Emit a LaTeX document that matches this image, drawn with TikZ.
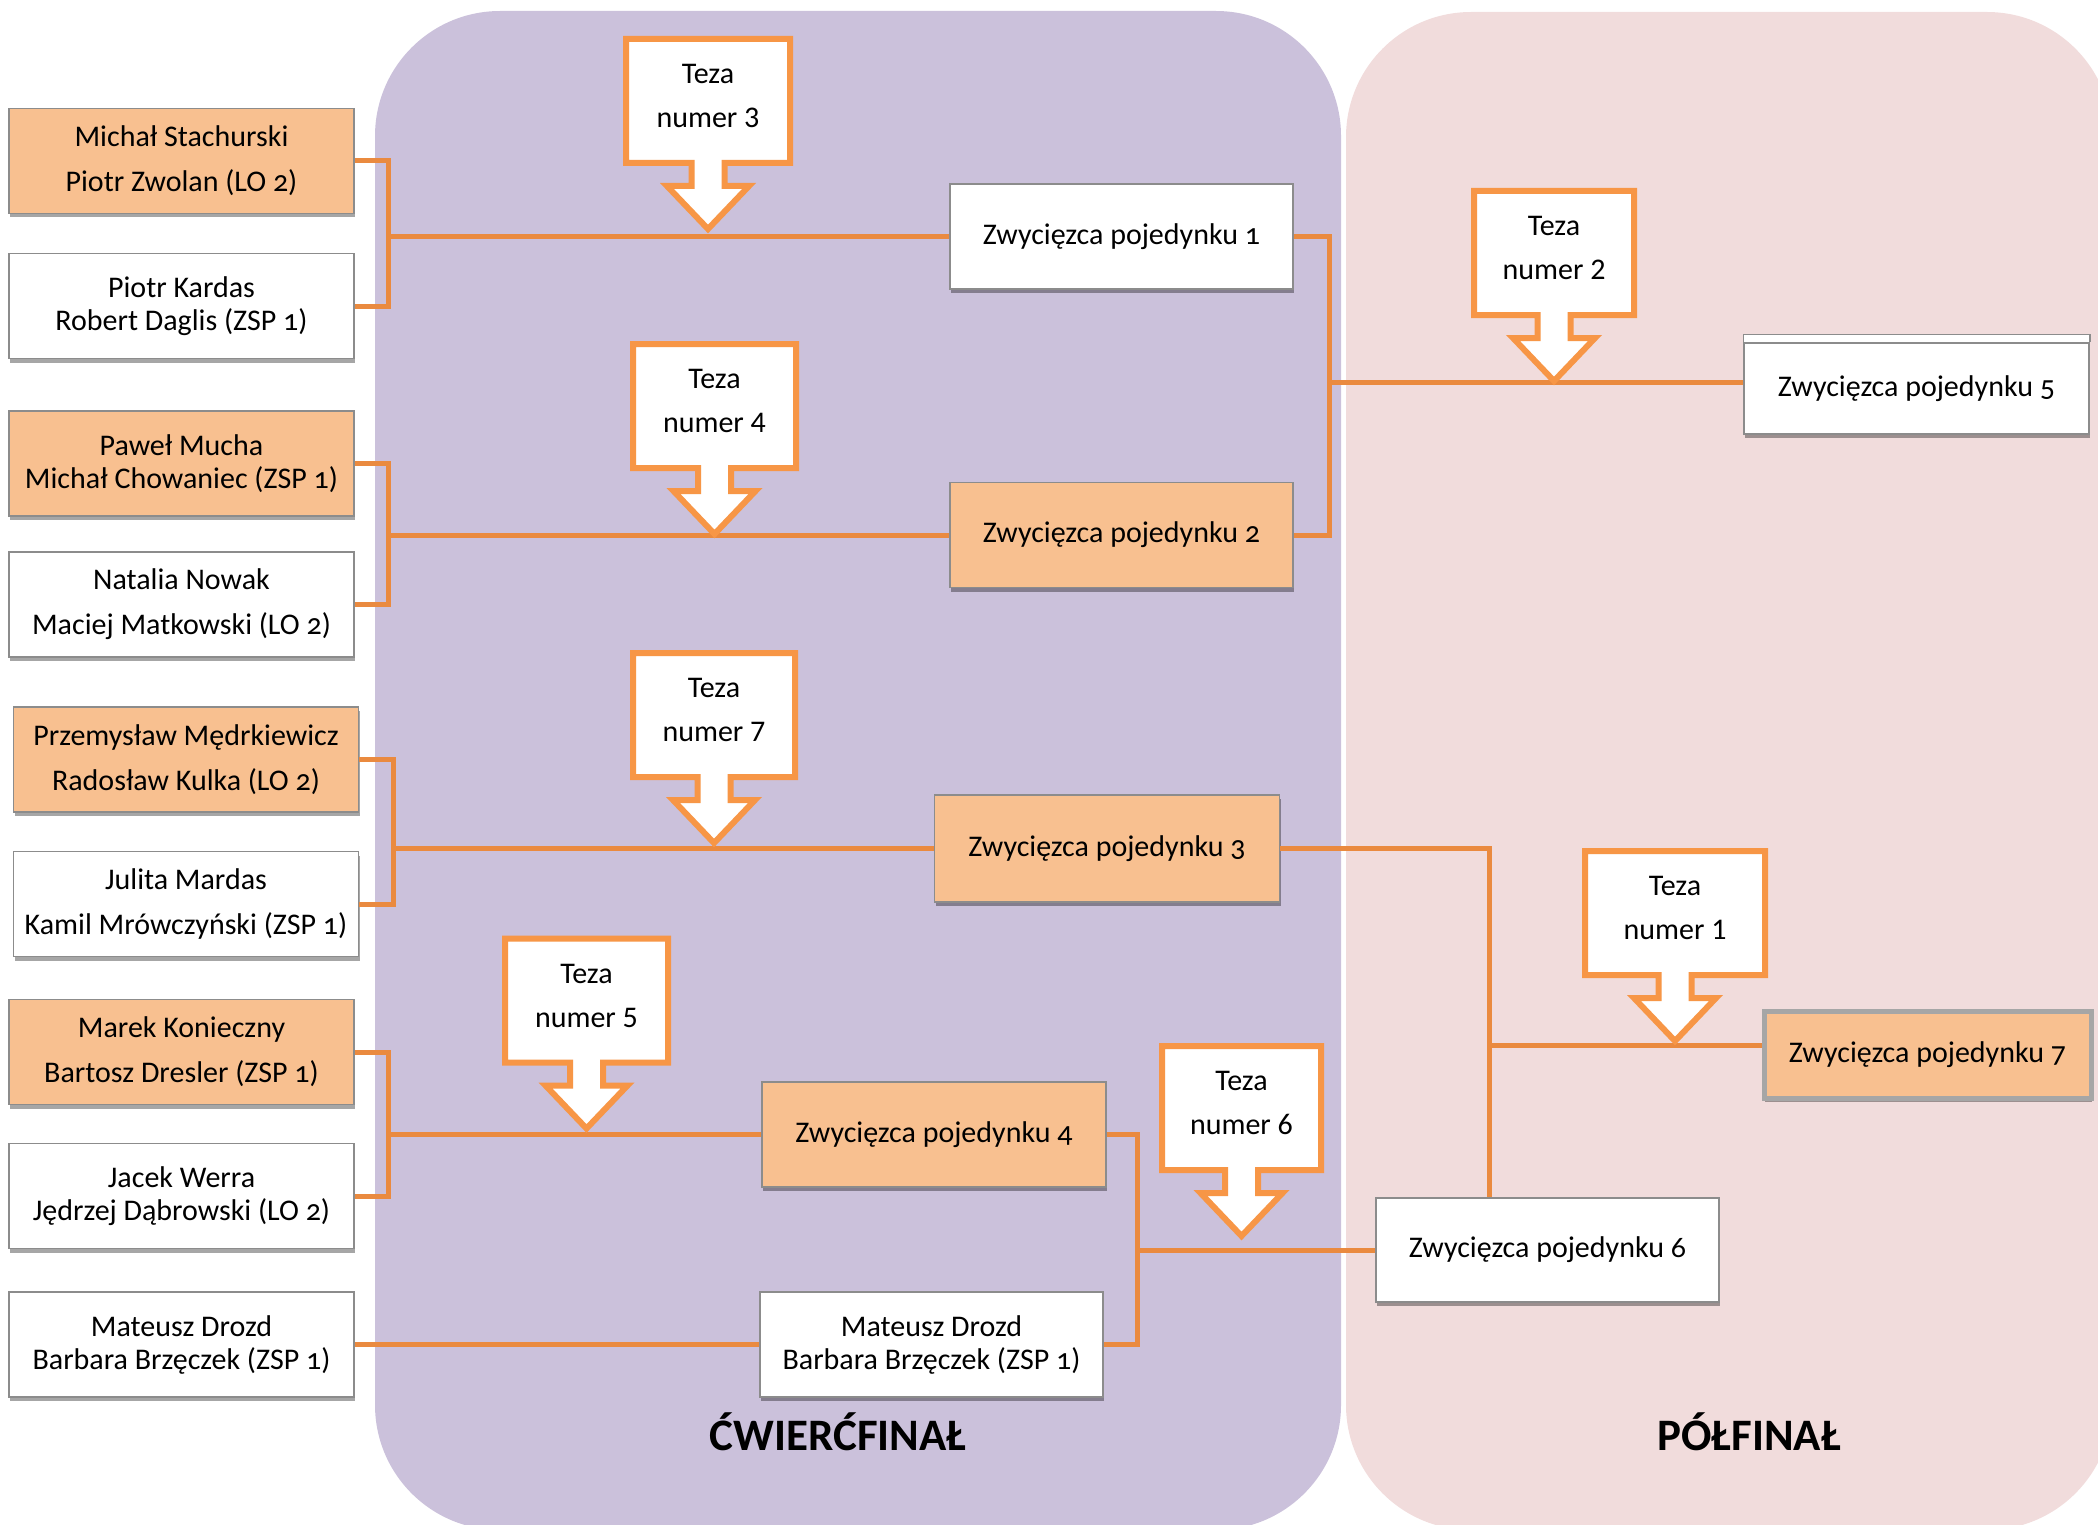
\documentclass[tikz,border=0pt]{standalone}
\usepackage{fontspec}
\setmainfont{Carlito}[Numbers=OldStyle]
\newfontfamily\tezafont{Carlito}[Numbers=Lining]
\usepackage{tikz}
\usetikzlibrary{shadows}

\definecolor{kwarc}{HTML}{CBC1DB}
\definecolor{polfin}{HTML}{F1DCDC}
\definecolor{pomar}{HTML}{F8C090}
\definecolor{linia}{HTML}{EA8A3F}
\definecolor{ramka}{HTML}{F79646}
\definecolor{szary}{HTML}{8C8C8C}

% callout: name, centre x, top y, width, number
\newcommand{\teza}[5]{%
    \draw[tezaline] ({#2-#4/2},#3) -- ++(#4,0) -- ++(0,124) -- ({#2+16.5},{#3+124})
        -- ++(0,23) -- ++(24.5,0) -- ({#2},{#3+190}) -- ({#2-41},{#3+147}) -- ++(24.5,0)
        -- ++(0,-23) -- ({#2-#4/2},{#3+124}) -- cycle;
    \node[tezatext] (#1) at (#2,{#3+57}) {Teza\\numer #5};
}

\begin{document}
\begin{tikzpicture}[x=1pt, y=-1pt,
    pairbox/.style={draw=szary, line width=1.5pt, fill=white, minimum width=345, minimum height=105,
        inner sep=0pt, align=center, font=\fontsize{30}{45}\selectfont,
        drop shadow={shadow xshift=1pt, shadow yshift=-4pt, opacity=0.35, fill=black}},
    winfill/.style={fill=pomar},
    tight/.style={font=\fontsize{30}{33}\selectfont},
    conn/.style={draw=linia, line width=5pt},
    tezaline/.style={draw=ramka, line width=6pt, fill=white},
    tezatext/.style={align=center, font=\tezafont\fontsize{30}{44}\selectfont},
    etap/.style={font=\bfseries\fontsize{45}{50}\selectfont}]

    \useasboundingbox (0,0) rectangle (2098,1525);
    \clip (0,0) rectangle (2098,1525);

    % stages
    \fill[kwarc, rounded corners=125] (375,11) rectangle (1341,1530);
    \fill[polfin, rounded corners=125] (1346,12) rectangle (2112,1530);
    \node[etap] (cwierc) at (838,1432) {ĆWIERĆFINAŁ};
    \node[etap] (polf) at (1749,1432) {PÓŁFINAŁ};

    % pairs
    \node[pairbox, winfill] (p1) at (181.5,161) {Michał Stachurski\\Piotr Zwolan (LO 2)};
    \node[pairbox, tight] (p2) at (181.5,306) {Piotr Kardas\\Robert Daglis (ZSP 1)};
    \node[pairbox, winfill, tight] (p3) at (181.5,463.5) {Paweł Mucha\\Michał Chowaniec (ZSP 1)};
    \node[pairbox] (p4) at (181.5,604.5) {Natalia Nowak\\Maciej Matkowski (LO 2)};
    \node[pairbox, winfill] (p5) at (186,759.5) {Przemysław Mędrkiewicz\\Radosław Kulka (LO 2)};
    \node[pairbox] (p6) at (186,904) {Julita Mardas\\Kamil Mrówczyński (ZSP 1)};
    \node[pairbox, winfill] (p7) at (181.5,1052) {Marek Konieczny\\Bartosz Dresler (ZSP 1)};
    \node[pairbox, tight] (p8) at (181.5,1196) {Jacek Werra\\Jędrzej Dąbrowski (LO 2)};
    \node[pairbox, tight] (p9) at (181.5,1344.5) {Mateusz Drozd\\Barbara Brzęczek (ZSP 1)};

    % winners
    \node[pairbox, minimum width=343] (z1) at (1121.5,236.5) {Zwycięzca pojedynku 1};
    \node[pairbox, winfill, minimum width=343] (z2) at (1121.5,535) {Zwycięzca pojedynku 2};
    \node[pairbox, winfill, minimum height=107] (z3) at (1107,848.5) {Zwycięzca pojedynku 3};
    \node[pairbox, winfill, minimum width=344] (z4) at (934,1134.5) {Zwycięzca pojedynku 4};
    \node[pairbox, tight, minimum width=343] (p9b) at (931.5,1344.5) {Mateusz Drozd\\Barbara Brzęczek (ZSP 1)};
    \node[pairbox, minimum width=343, minimum height=104] (z6) at (1547.5,1250) {Zwycięzca pojedynku 6};
    \node[pairbox, minimum height=91] (z5) at (1916.5,388.5) {Zwycięzca pojedynku 5};
    \draw[szary, line width=1.5pt, fill=white] (z5.north west) -- ([yshift=8pt]z5.north west)
        -- ([yshift=8pt]z5.north east) -- (z5.north east);
    \node[pairbox, winfill, draw=black!35, line width=5pt, minimum width=327, minimum height=87] (z7) at (1927.5,1054.5) {Zwycięzca pojedynku 7};

    % brackets
    \draw[conn] (p1.east) -- ++(34,0) coordinate (j1) |- (p2.east);
    \draw[conn] (j1 |- z1.west) -- (z1.west);
    \draw[conn] (p3.east) -- ++(34,0) coordinate (j2) |- (p4.east);
    \draw[conn] (j2 |- z2.west) -- (z2.west);
    \draw[conn] (p5.east) -- ++(34,0) coordinate (j3) |- (p6.east);
    \draw[conn] (j3 |- z3.west) -- (z3.west);
    \draw[conn] (p7.east) -- ++(34,0) coordinate (j4) |- (p8.east);
    \draw[conn] (j4 |- z4.west) -- (z4.west);
    \draw[conn] (p9.east) -- (p9b.west);
    \coordinate (w5) at ([yshift=6pt]z5.west);
    \draw[conn] (z1.east) -- ++(36,0) coordinate (j5) |- (z2.east);
    \draw[conn] (j5 |- w5) -- (w5);
    \draw[conn] (z4.east) -- ++(31,0) coordinate (j6) |- (p9b.east);
    \draw[conn] (j6 |- z6.west) -- (z6.west);
    \coordinate (j7) at ([xshift=-58pt]z6.north);
    \coordinate (w7) at ([yshift=9pt]z7.west);
    \draw[conn] (z3.east) -| (j7);
    \draw[conn] (j7 |- w7) -- (w7);

    % theses
    \teza{t3}{708}{39}{164}{3}
    \teza{t4}{714.5}{344}{163}{4}
    \teza{t7}{714}{653}{162}{7}
    \teza{t5}{586.5}{938.5}{163}{5}
    \teza{t2}{1554}{191}{160}{2}
    \teza{t1}{1675}{851}{180}{1}
    \teza{t6}{1241.5}{1046}{159}{6}
\end{tikzpicture}
\end{document}
